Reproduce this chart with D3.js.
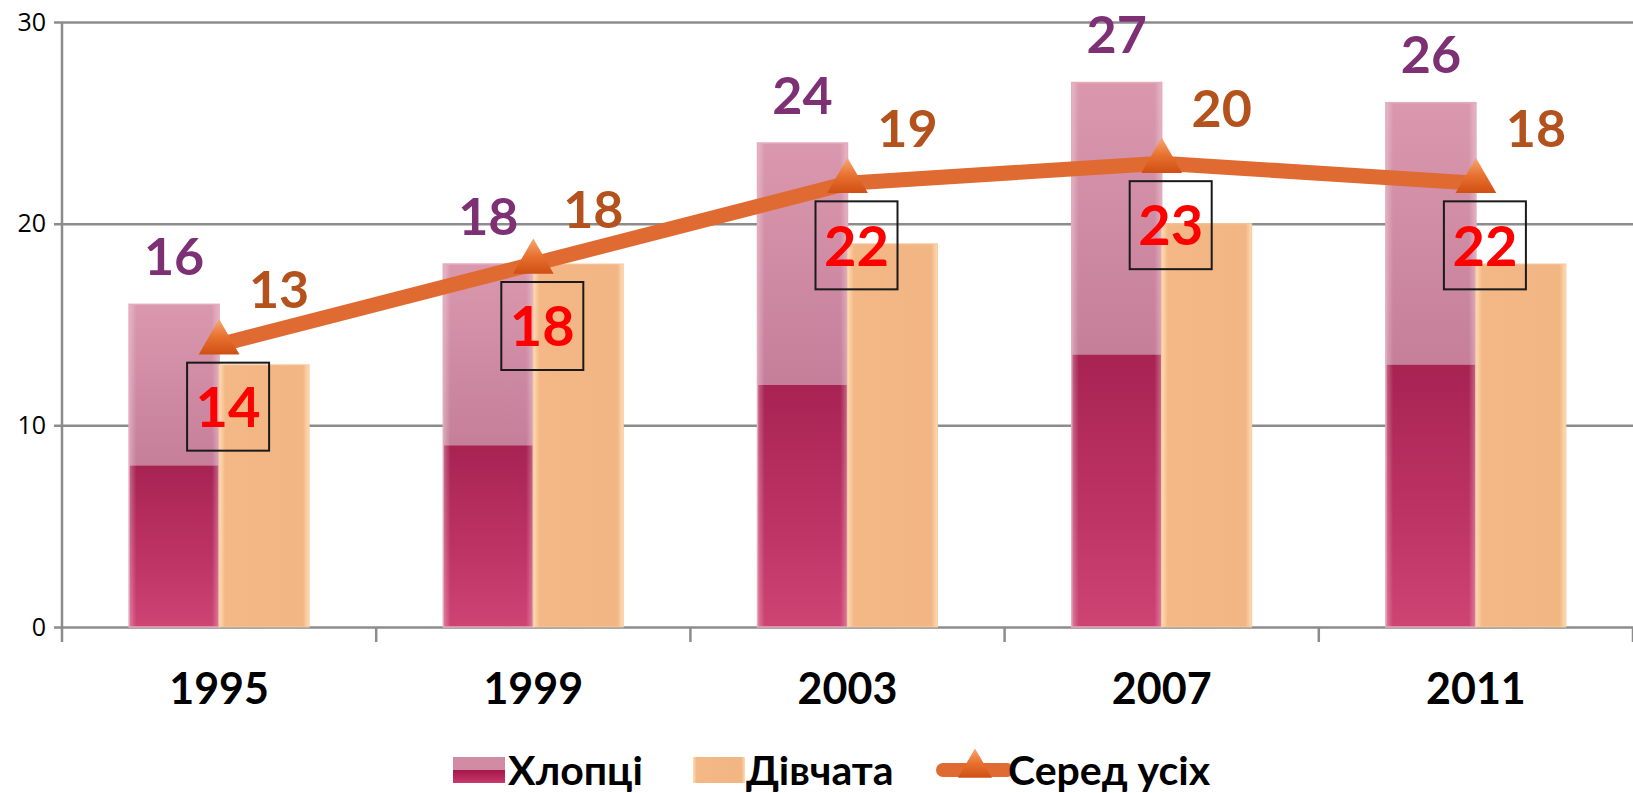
<!DOCTYPE html>
<meta charset="utf-8">
<script src="https://d3js.org/d3.v7.min.js"></script>
<style>
  body { margin: 0; background: #fff; }
  text { font-family: Lato, "Open Sans", sans-serif; }
</style>
<div id="my_dataviz"></div>
<script>

// data
var years = ["1995", "1999", "2003", "2007", "2011"];
var boys = [16, 18, 24, 27, 26];       // Хлопці
var girls = [13, 18, 19, 20, 18];      // Дівчата
var overall = [14, 18, 22, 23, 22];    // Серед усіх
var yTicks = [0, 10, 20, 30];

var width = 1633, height = 793;

var svg = d3.select("#my_dataviz")
  .append("svg")
  .attr("width", width)
  .attr("height", height);

var defs = svg.append("defs");

// gradients for the glassy bars
function linGrad(id, vertical, stops) {
  var g = defs.append("linearGradient").attr("id", id)
    .attr("x1", 0).attr("y1", 0)
    .attr("x2", vertical ? 0 : 1).attr("y2", vertical ? 1 : 0);
  stops.forEach(function(s) {
    g.append("stop").attr("offset", s[0]).attr("stop-color", s[1])
      .attr("stop-opacity", s[2] === undefined ? 1 : s[2]);
  });
}
linGrad("boyTop", true, [[0, "#d893aa"], [1, "#ad5d7d"]]);
linGrad("boyBottom", true, [[0, "#a31849"], [0.6, "#bb2a5d"], [1, "#cb3a6c"]]);
linGrad("edgeH", false, [[0, "#ffffff", 0.35], [0.08, "#ffffff", 0.05], [0.92, "#ffffff", 0.05], [1, "#ffffff", 0.35]]);
linGrad("girl", false, [[0, "#ffdcb4"], [0.07, "#f3b886"], [0.93, "#f2b584"], [1, "#ffdcb4"]]);
linGrad("tri", true, [[0, "#f6a874"], [0.5, "#e8712f"], [1, "#cf4f14"]]);

var x = d3.scaleBand()
  .domain(years)
  .range([62, 1633])
  .padding(0);

var y = d3.scaleLinear()
  .domain([0, 30])
  .range([627, 22]);

var barW = 90;

// gridlines + y axis
var yAxis = d3.axisLeft(y)
  .tickValues(yTicks)
  .tickSize(-(1633 - 62))
  .tickSizeOuter(0)
  .tickPadding(16);

var gy = svg.append("g")
  .attr("transform", "translate(62,0)")
  .call(yAxis);
gy.select(".domain").remove();
gy.selectAll(".tick line")
  .attr("x1", -8)
  .attr("stroke", "#8c8c8c")
  .attr("stroke-width", 2.5);
gy.selectAll(".tick text")
  .attr("font-size", 25)
  .attr("fill", "#000")
  .style("font-family", "'Open Sans', sans-serif");

// y axis vertical line
svg.append("line")
  .attr("x1", 62).attr("x2", 62)
  .attr("y1", y(30)).attr("y2", y(0) + 15)
  .attr("stroke", "#8c8c8c")
  .attr("stroke-width", 2.5);

// x axis ticks between categories
svg.selectAll(".xtick")
  .data(years)
  .enter()
  .append("line")
  .attr("x1", function(d) { return x(d) + x.bandwidth(); })
  .attr("x2", function(d) { return x(d) + x.bandwidth(); })
  .attr("y1", y(0))
  .attr("y2", y(0) + 15)
  .attr("stroke", "#8c8c8c")
  .attr("stroke-width", 2.5);

// x labels
svg.selectAll(".xlab")
  .data(years)
  .enter()
  .append("text")
  .attr("x", function(d) { return x(d) + x.bandwidth() / 2; })
  .attr("y", 704)
  .attr("text-anchor", "middle")
  .attr("font-size", 43)
  .attr("font-weight", "bold")
  .attr("fill", "#000")
  .text(function(d) { return d; });

function cx(i) { return x(years[i]) + x.bandwidth() / 2; }

// boys bars (glass look: light top, dark lower half)
var bg = svg.selectAll(".boy")
  .data(boys)
  .enter()
  .append("g");
bg.append("rect")
  .attr("x", function(d, i) { return cx(i) - barW; })
  .attr("y", function(d) { return y(d); })
  .attr("width", barW)
  .attr("height", function(d) { return y(0) - y(d); })
  .attr("fill", "url(#boyTop)");
bg.append("rect")
  .attr("x", function(d, i) { return cx(i) - barW; })
  .attr("y", function(d) { return y(d / 2); })
  .attr("width", barW)
  .attr("height", function(d) { return y(0) - y(d / 2); })
  .attr("fill", "url(#boyBottom)");
bg.append("rect")
  .attr("x", function(d, i) { return cx(i) - barW; })
  .attr("y", function(d) { return y(d); })
  .attr("width", barW)
  .attr("height", function(d) { return y(0) - y(d); })
  .attr("fill", "url(#edgeH)")
  .attr("stroke", "#e6aabd")
  .attr("stroke-width", 1.5);

// girls bars
svg.selectAll(".girl")
  .data(girls)
  .enter()
  .append("rect")
  .attr("x", function(d, i) { return cx(i); })
  .attr("y", function(d) { return y(d); })
  .attr("width", barW)
  .attr("height", function(d) { return y(0) - y(d); })
  .attr("fill", "url(#girl)")
  .attr("stroke", "#f7cba0")
  .attr("stroke-width", 1);

// overall line
var line = d3.line()
  .x(function(d, i) { return cx(i); })
  .y(function(d) { return y(d); });

svg.append("path")
  .datum(overall)
  .attr("d", line)
  .attr("fill", "none")
  .attr("stroke", "#e06b32")
  .attr("stroke-width", 15)
  .attr("stroke-linejoin", "round");

var tri = d3.symbol().type(d3.symbolTriangle).size(720);
svg.selectAll(".marker")
  .data(overall)
  .enter()
  .append("path")
  .attr("d", tri)
  .attr("transform", function(d, i) { return "translate(" + cx(i) + "," + (y(d) - 2) + ")"; })
  .attr("fill", "url(#tri)");

// boys value labels
svg.selectAll(".blab")
  .data(boys)
  .enter()
  .append("text")
  .attr("x", function(d, i) { return cx(i) - barW / 2; })
  .attr("y", function(d) { return y(d) - 48; })
  .attr("dy", "0.36em")
  .attr("text-anchor", "middle")
  .attr("font-size", 52)
  .attr("font-weight", "bold")
  .attr("fill", "#7d3074")
  .text(function(d) { return d; });

// girls value labels (placed above the line)
svg.selectAll(".glab")
  .data(girls)
  .enter()
  .append("text")
  .attr("x", function(d, i) { return cx(i) + 60; })
  .attr("y", function(d, i) { return y(overall[i]) - 55; })
  .attr("dy", "0.36em")
  .attr("text-anchor", "middle")
  .attr("font-size", 52)
  .attr("font-weight", "bold")
  .attr("fill", "#b4521e")
  .text(function(d) { return d; });

// overall labels in boxes
var ob = svg.selectAll(".olab")
  .data(overall)
  .enter()
  .append("g")
  .attr("transform", function(d, i) { return "translate(" + (cx(i) + 9) + "," + (y(d) + 62) + ")"; });
ob.append("rect")
  .attr("x", -41).attr("y", -44)
  .attr("width", 82).attr("height", 88)
  .attr("fill", "none")
  .attr("stroke", "#1a1a1a")
  .attr("stroke-width", 2);
ob.append("text")
  .attr("text-anchor", "middle")
  .attr("dy", "0.36em")
  .attr("font-size", 56)
  .attr("font-weight", "bold")
  .attr("fill", "#ff0000")
  .text(function(d) { return d; });

// legend
var legY = 770;
var leg = svg.append("g");
leg.append("rect").attr("x", 453).attr("y", legY - 13).attr("width", 52).attr("height", 13).attr("fill", "#d18ba3");
leg.append("rect").attr("x", 453).attr("y", legY).attr("width", 52).attr("height", 13).attr("fill", "url(#boyBottom)");
leg.append("text").attr("x", 508).attr("y", legY).attr("dy", "0.36em")
  .attr("font-size", 41).attr("font-weight", "bold").text("Хлопці");

leg.append("rect").attr("x", 693).attr("y", legY - 13).attr("width", 52).attr("height", 26).attr("fill", "url(#girl)");
leg.append("text").attr("x", 746).attr("y", legY).attr("dy", "0.36em")
  .attr("font-size", 41).attr("font-weight", "bold").text("Дівчата");

leg.append("line").attr("x1", 943).attr("x2", 1007).attr("y1", legY).attr("y2", legY)
  .attr("stroke", "#e06b32").attr("stroke-width", 14).attr("stroke-linecap", "round");
leg.append("path").attr("d", d3.symbol().type(d3.symbolTriangle).size(500))
  .attr("transform", "translate(975," + (legY - 2) + ")").attr("fill", "url(#tri)");
leg.append("text").attr("x", 1008).attr("y", legY).attr("dy", "0.36em")
  .attr("font-size", 41).attr("font-weight", "bold").text("Серед усіх");

</script>
